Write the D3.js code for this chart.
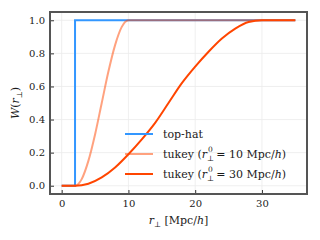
<!DOCTYPE html>
<html>
<head>
<meta charset="utf-8">
<style>
  body { margin: 0; background: #fff; }
  svg { display: block; font-family: "DejaVu Serif", serif; }
  .grid line { stroke: #ebebeb; stroke-width: 0.8; }
  .axis path { display: none; }
  .axis line { stroke: #333; stroke-width: 1; }
  .axis text { font-size: 10px; fill: #1a1a1a; font-family: "DejaVu Serif", serif; }
</style>
</head>
<body>
<svg width="320" height="240"></svg>
<script src="https://cdn.jsdelivr.net/npm/d3@7"></script>
<script>

// values
var topHatR = [0, 2, 2, 35];
var topHatW = [0, 0, 1, 1];

var tukey10R = [0, 2, 3, 4, 5, 6, 7, 8, 9, 10, 35];
var tukey10W = [0, 0, 0.04, 0.15, 0.31, 0.5, 0.69, 0.85, 0.96, 1, 1];

var tukey30R = [0, 2, 4, 6, 8, 10, 12, 14, 16, 18, 20, 22, 24, 26, 28, 30, 35];
var tukey30W = [0, 0, 0.012, 0.05, 0.11, 0.19, 0.28, 0.38, 0.5, 0.62, 0.72, 0.81, 0.89, 0.95, 0.99, 1, 1];

var xTicks = [0, 10, 20, 30];
var yTicks = [0, 0.2, 0.4, 0.6, 0.8, 1.0];

var width = 320;
var height = 240;
var margin = { top: 12, right: 13, bottom: 46, left: 50 };
var innerWidth = width - margin.left - margin.right;
var innerHeight = height - margin.top - margin.bottom;

var svg = d3.select("svg");
var g = svg.append("g")
	.attr("transform", "translate(" + margin.left + "," + margin.top + ")");

var x = d3.scaleLinear().domain([-1.75, 36.75]).range([0, innerWidth]);
var y = d3.scaleLinear().domain([-0.05, 1.05]).range([innerHeight, 0]);

// grid
g.append("g").attr("class", "grid")
	.selectAll("line").data(xTicks).join("line")
	.attr("x1", function(d){ return x(d); })
	.attr("x2", function(d){ return x(d); })
	.attr("y1", 0).attr("y2", innerHeight);
g.append("g").attr("class", "grid")
	.selectAll("line").data(yTicks).join("line")
	.attr("y1", function(d){ return y(d); })
	.attr("y2", function(d){ return y(d); })
	.attr("x1", 0).attr("x2", innerWidth);

// axes, ticks pointing inward
g.append("g").attr("class", "axis")
	.attr("transform", "translate(0," + innerHeight + ")")
	.call(d3.axisBottom(x).tickValues(xTicks).tickFormat(d3.format("d")).tickSizeInner(-4).tickPadding(6));
g.append("g").attr("class", "axis")
	.call(d3.axisLeft(y).tickValues(yTicks).tickFormat(d3.format(".1f")).tickSizeInner(-4).tickPadding(5));

function pts(rs, ws) {
	return rs.map(function(r, i){ return [r, ws[i]]; });
}

var line = d3.line()
	.x(function(d){ return x(d[0]); })
	.y(function(d){ return y(d[1]); });
var smooth = d3.line()
	.x(function(d){ return x(d[0]); })
	.y(function(d){ return y(d[1]); })
	.curve(d3.curveMonotoneX);

var series = [
	{ key: "top-hat", data: pts(topHatR, topHatW), color: "#3397ff", opacity: 1, gen: line },
	{ key: "tukey10", data: pts(tukey10R, tukey10W), color: "#ff4500", opacity: 0.5, gen: smooth },
	{ key: "tukey30", data: pts(tukey30R, tukey30W), color: "#ff4500", opacity: 1, gen: smooth }
];

g.selectAll(".series").data(series).join("path")
	.attr("class", "series")
	.attr("fill", "none")
	.attr("stroke", function(d){ return d.color; })
	.attr("stroke-opacity", function(d){ return d.opacity; })
	.attr("stroke-width", 2)
	.attr("d", function(d){ return d.gen(d.data); });

// frame
g.append("rect")
	.attr("width", innerWidth).attr("height", innerHeight)
	.attr("fill", "none").attr("stroke", "#555").attr("stroke-width", 2);

// legend
var legend = g.append("g").attr("transform", "translate(75,122)");
var rows = legend.selectAll("g").data(series).join("g")
	.attr("transform", function(d, i){ return "translate(0," + (i * 20) + ")"; });
rows.append("line")
	.attr("x1", 0).attr("x2", 28)
	.attr("stroke", function(d){ return d.color; })
	.attr("stroke-opacity", function(d){ return d.opacity; })
	.attr("stroke-width", 2);

function mathLabel(sel, r0) {
	sel.append("tspan").text("tukey (");
	sel.append("tspan").attr("font-style", "italic").text("r");
	sel.append("tspan").attr("font-size", "7.5px").attr("dy", 3).text("\u22A5");
	sel.append("tspan").attr("font-size", "7.5px").attr("dx", -6).attr("dy", -9).text("0");
	sel.append("tspan").attr("dy", 6).text(" = " + r0 + " Mpc/");
	sel.append("tspan").attr("font-style", "italic").text("h");
	sel.append("tspan").text(")");
}

rows.append("text")
	.attr("x", 38).attr("y", 4)
	.attr("font-size", "11px").attr("fill", "#1a1a1a")
	.each(function(d){
		var t = d3.select(this);
		if (d.key === "top-hat") t.text("top-hat");
		else mathLabel(t, d.key === "tukey10" ? 10 : 30);
	});

// axis labels
var xl = svg.append("text")
	.attr("x", margin.left + innerWidth / 2).attr("y", 224)
	.attr("text-anchor", "middle").attr("font-size", "11px").attr("fill", "#1a1a1a");
xl.append("tspan").attr("font-style", "italic").text("r");
xl.append("tspan").attr("font-size", "7.5px").attr("dy", 3).text("\u22A5");
xl.append("tspan").attr("dy", -3).text(" [Mpc/");
xl.append("tspan").attr("font-style", "italic").text("h");
xl.append("tspan").text("]");

var yl = svg.append("text")
	.attr("transform", "translate(19," + (margin.top + innerHeight / 2) + ") rotate(-90)")
	.attr("text-anchor", "middle").attr("font-size", "11px").attr("fill", "#1a1a1a");
yl.append("tspan").attr("font-style", "italic").text("W");
yl.append("tspan").text("(");
yl.append("tspan").attr("font-style", "italic").text("r");
yl.append("tspan").attr("font-size", "7.5px").attr("dy", 3).text("\u22A5");
yl.append("tspan").attr("dy", -3).text(")");

</script>
</body>
</html>
